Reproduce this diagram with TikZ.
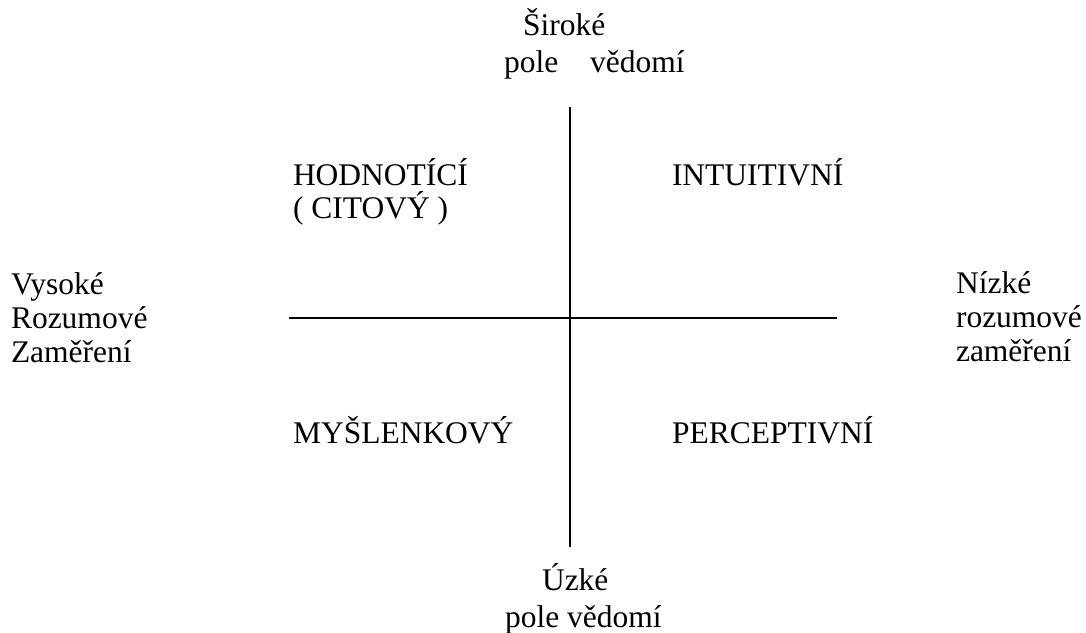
\documentclass[tikz,border=0pt]{standalone}
\usepackage{fontspec}
\setmainfont{Liberation Serif}
\newfontfamily\tnr{Liberation Serif}
\begin{document}
\begin{tikzpicture}[x=1pt,y=-1pt,
  lbl/.style={anchor=base west,inner sep=0pt,outer sep=0pt,font=\tnr\fontsize{31.5}{33.7}\selectfont},
  axis/.style={line width=1.8pt,black}]
\useasboundingbox (0,0) rectangle (1086,632);
% axes
\coordinate (vtop) at (570,107);
\coordinate (vbot) at (570,547);
\coordinate (hleft) at (289,318);
\coordinate (hright) at (837,318);
\draw[axis] (vtop) -- (vbot);
\draw[axis] (hleft) -- (hright);
% top
\node[lbl] (top1) at (523,35) {Široké};
\node[lbl] (top2) at (504,72) {pole\hspace{24pt} vědomí};
% bottom
\node[lbl] (bot1) at (542,590) {Úzké};
\node[lbl] (bot2) at (505,627) {pole vědomí};
% left
\node[lbl] (l1) at (11,294) {Vysoké};
\node[lbl] (l2) at (11,328) {Rozumové};
\node[lbl] (l3) at (11,362) {Zaměření};
% right
\node[lbl] (r1) at (956,293) {Nízké};
\node[lbl] (r2) at (956,327) {rozumové};
\node[lbl] (r3) at (956,361) {zaměření};
% quadrants
\node[lbl] (q1a) at (293,185) {HODNOTÍCÍ};
\node[lbl] (q1b) at (293,218) {( CITOVÝ )};
\node[lbl] (q2) at (672,185) {INTUITIVNÍ};
\node[lbl] (q3) at (293,443) {MYŠLENKOVÝ};
\node[lbl] (q4) at (672,443) {PERCEPTIVNÍ};
\end{tikzpicture}
\end{document}
